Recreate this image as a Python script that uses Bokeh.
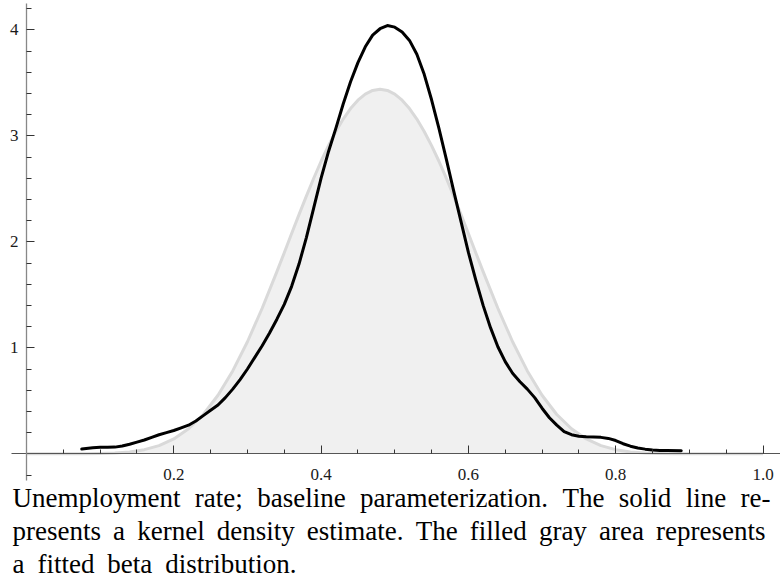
from bokeh.plotting import figure
from bokeh.models import Range1d, FixedTicker, ColumnDataSource
from bokeh.core.properties import value
from bokeh.embed import file_html
from bokeh.resources import INLINE

# ---------------- data ----------------
kde_x = [0.075, 0.09, 0.10, 0.11, 0.12, 0.13, 0.14, 0.15, 0.16, 0.17, 0.18, 0.19,
         0.20, 0.21, 0.22, 0.23, 0.24, 0.25, 0.26, 0.27, 0.28, 0.29, 0.30, 0.31,
         0.32, 0.33, 0.34, 0.35, 0.36, 0.37, 0.38, 0.39, 0.40, 0.41, 0.42, 0.43,
         0.44, 0.45, 0.46, 0.47, 0.48, 0.49, 0.50, 0.51, 0.52, 0.53, 0.54, 0.55,
         0.56, 0.57, 0.58, 0.59, 0.60, 0.61, 0.62, 0.63, 0.64, 0.65, 0.66, 0.67,
         0.68, 0.69, 0.70, 0.71, 0.72, 0.73, 0.74, 0.75, 0.76, 0.77, 0.78, 0.79,
         0.80, 0.81, 0.82, 0.83, 0.84, 0.85, 0.86, 0.87, 0.889]
kde_y = [0.045, 0.058, 0.062, 0.062, 0.063, 0.073, 0.090, 0.11, 0.13, 0.155, 0.18, 0.20,
         0.22, 0.245, 0.27, 0.31, 0.36, 0.41, 0.46, 0.53, 0.61, 0.70, 0.80, 0.91,
         1.02, 1.14, 1.27, 1.41, 1.58, 1.79, 2.04, 2.32, 2.60, 2.85, 3.07, 3.30,
         3.51, 3.69, 3.84, 3.95, 4.01, 4.04, 4.025, 3.98, 3.90, 3.77, 3.58, 3.34,
         3.07, 2.78, 2.48, 2.19, 1.90, 1.64, 1.40, 1.19, 1.01, 0.87, 0.76, 0.68,
         0.61, 0.53, 0.43, 0.34, 0.27, 0.21, 0.18, 0.165, 0.16, 0.158, 0.155, 0.145,
         0.125, 0.095, 0.072, 0.055, 0.044, 0.036, 0.032, 0.030, 0.028]

beta_x = [0.00, 0.02, 0.04, 0.06, 0.08, 0.10, 0.12, 0.14, 0.16, 0.18, 0.20, 0.22,
          0.24, 0.26, 0.28, 0.30, 0.32, 0.34, 0.35, 0.36, 0.37, 0.38, 0.39, 0.40,
          0.41, 0.42, 0.43, 0.44, 0.45, 0.46, 0.47, 0.48, 0.49, 0.50, 0.51, 0.52,
          0.53, 0.54, 0.55, 0.56, 0.57, 0.58, 0.59, 0.60, 0.61, 0.62, 0.64, 0.66,
          0.68, 0.70, 0.72, 0.74, 0.76, 0.78, 0.80, 0.82, 0.84, 0.86, 0.88, 0.90,
          0.92, 0.94, 0.96, 0.98, 1.00]
beta_y = [0.0, 0.0, 0.0, 0.0001, 0.0006, 0.0023, 0.0069, 0.0176, 0.039, 0.077, 0.140, 0.236,
          0.371, 0.552, 0.782, 1.057, 1.373, 1.719, 1.897, 2.078, 2.256, 2.431, 2.600, 2.760,
          2.907, 3.041, 3.158, 3.257, 3.336, 3.394, 3.428, 3.440, 3.428, 3.394, 3.336, 3.257,
          3.158, 3.041, 2.907, 2.760, 2.600, 2.431, 2.256, 2.078, 1.897, 1.719, 1.373, 1.057,
          0.782, 0.552, 0.371, 0.236, 0.140, 0.077, 0.039, 0.0176, 0.0069, 0.0023, 0.0006, 0.0001,
          0.0, 0.0, 0.0, 0.0, 0.0]

x_ticks = [0.2, 0.4, 0.6, 0.8, 1.0]
x_tick_labels = ["0.2", "0.4", "0.6", "0.8", "1.0"]
x_minor_ticks = [0.05, 0.10, 0.15, 0.25, 0.30, 0.35, 0.45, 0.50, 0.55, 0.65, 0.70,
                 0.75, 0.85, 0.90, 0.95]
y_ticks = [1, 2, 3, 4]
y_tick_labels = ["1", "2", "3", "4"]
y_minor_ticks = [-0.2, 0.2, 0.4, 0.6, 0.8, 1.2, 1.4, 1.6, 1.8, 2.2, 2.4, 2.6, 2.8,
                 3.2, 3.4, 3.6, 3.8, 4.2]

caption_lines = [
    "Unemployment rate; baseline parameterization. The solid line re-",
    "presents a kernel density estimate. The filled gray area represents",
    "a fitted beta distribution.",
]

# ---------------- layout constants ----------------
W, H = 780, 579
X0_PX, PX_PER_X = 26.0, 736.5      # pixel of x = 0, pixels per unit
Y0_PX, PX_PER_Y = 453.3, 106.0     # pixel of y = 0, pixels per unit
FONT = "Liberation Serif"
CAP_SIZE = 27

def px_to_x(px):
    return (px - X0_PX) / PX_PER_X

def py_to_y(py):
    return (Y0_PX - py) / PX_PER_Y

p = figure(width=W, height=H, output_backend="svg", toolbar_location=None,
           x_range=Range1d(px_to_x(0), px_to_x(W)),
           y_range=Range1d(py_to_y(H), py_to_y(0)),
           min_border=0, min_border_left=0, min_border_right=0,
           min_border_top=0, min_border_bottom=0)
p.outline_line_color = None
p.xgrid.visible = False
p.ygrid.visible = False
p.background_fill_color = "white"

# fitted beta (filled gray area)
p.varea(x=beta_x, y1=[0] * len(beta_x), y2=beta_y, fill_color="#f0f0f0")
p.line(beta_x, beta_y, line_color="#d9d9d9", line_width=3, line_join="round")

# kernel density estimate
p.line(kde_x, kde_y, line_color="black", line_width=3, line_join="round",
       line_cap="round")

# axes crossing at the origin
xa = p.xaxis[0]
xa.fixed_location = 0
xa.bounds = (-0.02, 1.03)
xa.ticker = FixedTicker(ticks=x_ticks, minor_ticks=x_minor_ticks)
xa.major_label_overrides = dict(zip(x_ticks, x_tick_labels))
xa.axis_line_color = "#555555"
xa.axis_line_width = 1.2
xa.major_tick_in = 8
xa.major_tick_out = 0
xa.minor_tick_in = 4
xa.minor_tick_out = 0
xa.major_tick_line_color = "#333333"
xa.minor_tick_line_color = "#333333"
xa.major_label_standoff = 15
xa.major_label_text_font = FONT
xa.major_label_text_font_size = "17px"
xa.major_label_text_color = "#1a1a1a"

ya = p.yaxis[0]
ya.fixed_location = 0
ya.bounds = (-0.25, 4.25)
ya.ticker = FixedTicker(ticks=y_ticks, minor_ticks=y_minor_ticks)
ya.major_label_overrides = dict(zip(y_ticks, y_tick_labels))
ya.axis_line_color = "#888888"
ya.axis_line_width = 1.3
ya.major_tick_in = 8
ya.major_tick_out = 0
ya.minor_tick_in = 5
ya.minor_tick_out = 0
ya.major_tick_line_color = "#333333"
ya.minor_tick_line_color = "#333333"
ya.major_label_standoff = 8
ya.major_label_text_font = FONT
ya.major_label_text_font_size = "17px"
ya.major_label_text_color = "#1a1a1a"

# ---------------- caption (justified, Times metrics) ----------------
TIMES = {
    'a': 444, 'b': 500, 'c': 444, 'd': 500, 'e': 444, 'f': 333, 'g': 500, 'h': 500,
    'i': 278, 'j': 278, 'k': 500, 'l': 278, 'm': 778, 'n': 500, 'o': 500, 'p': 500,
    'q': 500, 'r': 333, 's': 389, 't': 278, 'u': 500, 'v': 500, 'w': 722, 'x': 500,
    'y': 500, 'z': 444, 'T': 611, 'U': 722, ';': 278, '.': 250, '-': 333, ' ': 250,
}

def word_w(w):
    return sum(TIMES.get(c, 500) for c in w) * CAP_SIZE / 1000.0

LEFT_PX = 12.0
line_right_px = [770.0, 765.0, 296.0]
baselines_px = [497.5, 530.5, 563.0]
cx, cy, ct = [], [], []
for i, line in enumerate(caption_lines):
    words = line.split(" ")
    widths = [word_w(w) for w in words]
    gap = (line_right_px[i] - LEFT_PX - sum(widths)) / (len(words) - 1)
    pos = LEFT_PX
    for w, ww in zip(words, widths):
        cx.append(px_to_x(pos))
        cy.append(py_to_y(baselines_px[i]))
        ct.append(w)
        pos += ww + gap

src = ColumnDataSource(dict(x=cx, y=cy, text=ct))
p.text(x="x", y="y", text="text", source=src, text_font=value(FONT),
       text_font_size=value(f"{CAP_SIZE}px"), text_baseline="alphabetic",
       text_align="left", text_color="#000000")

open("out.html", "w").write(file_html(p, INLINE))
